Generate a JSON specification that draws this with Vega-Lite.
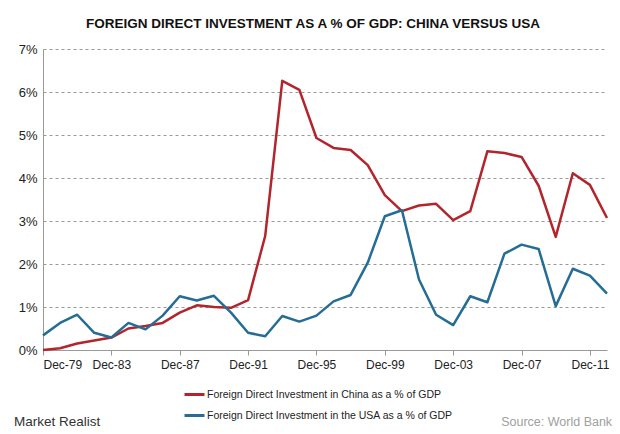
{
  "$schema": "https://vega.github.io/schema/vega-lite/v6.json",
  "autosize": "none",
  "width": 564,
  "height": 301,
  "padding": {"left": 43, "top": 49, "right": 13, "bottom": 84},
  "background": "white",
  "config": {
    "font": "Liberation Sans",
    "view": {"stroke": null}
  },
  "title": {
    "text": "FOREIGN DIRECT INVESTMENT AS A % OF GDP: CHINA VERSUS USA",
    "fontSize": 13.5,
    "fontWeight": "bold",
    "color": "#111111",
    "anchor": "middle",
    "dx": -12,
    "baseline": "alphabetic",
    "offset": 2
  },
  "datasets": {
    "fdi": [
      {"year": 1979, "series": "China", "value": 0.0},
      {"year": 1980, "series": "China", "value": 0.04},
      {"year": 1981, "series": "China", "value": 0.15},
      {"year": 1982, "series": "China", "value": 0.22},
      {"year": 1983, "series": "China", "value": 0.29},
      {"year": 1984, "series": "China", "value": 0.5},
      {"year": 1985, "series": "China", "value": 0.56},
      {"year": 1986, "series": "China", "value": 0.63},
      {"year": 1987, "series": "China", "value": 0.87},
      {"year": 1988, "series": "China", "value": 1.04},
      {"year": 1989, "series": "China", "value": 1.0},
      {"year": 1990, "series": "China", "value": 0.98},
      {"year": 1991, "series": "China", "value": 1.16},
      {"year": 1992, "series": "China", "value": 2.65},
      {"year": 1993, "series": "China", "value": 6.26},
      {"year": 1994, "series": "China", "value": 6.05},
      {"year": 1995, "series": "China", "value": 4.93},
      {"year": 1996, "series": "China", "value": 4.7},
      {"year": 1997, "series": "China", "value": 4.65},
      {"year": 1998, "series": "China", "value": 4.3},
      {"year": 1999, "series": "China", "value": 3.6},
      {"year": 2000, "series": "China", "value": 3.23},
      {"year": 2001, "series": "China", "value": 3.36},
      {"year": 2002, "series": "China", "value": 3.4},
      {"year": 2003, "series": "China", "value": 3.02},
      {"year": 2004, "series": "China", "value": 3.23},
      {"year": 2005, "series": "China", "value": 4.62},
      {"year": 2006, "series": "China", "value": 4.58},
      {"year": 2007, "series": "China", "value": 4.49},
      {"year": 2008, "series": "China", "value": 3.82},
      {"year": 2009, "series": "China", "value": 2.63},
      {"year": 2010, "series": "China", "value": 4.11},
      {"year": 2011, "series": "China", "value": 3.84},
      {"year": 2012, "series": "China", "value": 3.07},
      {"year": 1979, "series": "USA", "value": 0.34},
      {"year": 1980, "series": "USA", "value": 0.63},
      {"year": 1981, "series": "USA", "value": 0.82},
      {"year": 1982, "series": "USA", "value": 0.4},
      {"year": 1983, "series": "USA", "value": 0.29},
      {"year": 1984, "series": "USA", "value": 0.63},
      {"year": 1985, "series": "USA", "value": 0.48},
      {"year": 1986, "series": "USA", "value": 0.8},
      {"year": 1987, "series": "USA", "value": 1.25},
      {"year": 1988, "series": "USA", "value": 1.15},
      {"year": 1989, "series": "USA", "value": 1.26},
      {"year": 1990, "series": "USA", "value": 0.87},
      {"year": 1991, "series": "USA", "value": 0.4},
      {"year": 1992, "series": "USA", "value": 0.32},
      {"year": 1993, "series": "USA", "value": 0.79},
      {"year": 1994, "series": "USA", "value": 0.66},
      {"year": 1995, "series": "USA", "value": 0.8},
      {"year": 1996, "series": "USA", "value": 1.13},
      {"year": 1997, "series": "USA", "value": 1.28},
      {"year": 1998, "series": "USA", "value": 2.03},
      {"year": 1999, "series": "USA", "value": 3.11},
      {"year": 2000, "series": "USA", "value": 3.25},
      {"year": 2001, "series": "USA", "value": 1.64},
      {"year": 2002, "series": "USA", "value": 0.82},
      {"year": 2003, "series": "USA", "value": 0.58},
      {"year": 2004, "series": "USA", "value": 1.25},
      {"year": 2005, "series": "USA", "value": 1.11},
      {"year": 2006, "series": "USA", "value": 2.24},
      {"year": 2007, "series": "USA", "value": 2.45},
      {"year": 2008, "series": "USA", "value": 2.35},
      {"year": 2009, "series": "USA", "value": 1.02},
      {"year": 2010, "series": "USA", "value": 1.89},
      {"year": 2011, "series": "USA", "value": 1.73},
      {"year": 2012, "series": "USA", "value": 1.31}
    ],
    "notes": [
      {"label": "Market Realist"},
      {"label": "Source: World Bank"}
    ]
  },
  "layer": [
    {
      "data": {"name": "fdi"},
      "mark": {"type": "line", "strokeWidth": 2.5, "strokeJoin": "round"},
      "encoding": {
        "x": {
          "field": "year",
          "type": "quantitative",
          "scale": {"domain": [1979, 2012], "nice": false, "zero": false},
          "axis": {
            "title": null,
            "values": [1979, 1983, 1987, 1991, 1995, 1999, 2003, 2007, 2011],
            "labelExpr": "'Dec-' + substring(toString(datum.value), 2)",
            "labelFontSize": 12,
            "labelColor": "#222222",
            "labelPadding": 4,
            "domainColor": "#999999",
            "tickColor": "#999999",
            "tickSize": 5,
            "grid": false
          }
        },
        "y": {
          "field": "value",
          "type": "quantitative",
          "scale": {"domain": [0, 7], "nice": false},
          "axis": {
            "title": null,
            "values": [0, 1, 2, 3, 4, 5, 6, 7],
            "labelExpr": "datum.value + '%'",
            "labelFontSize": 13,
            "labelColor": "#222222",
            "labelPadding": 6,
            "ticks": false,
            "domainColor": "#999999",
            "grid": true,
            "gridColor": "#999999",
            "gridDash": [3, 3],
            "gridWidth": 1
          }
        },
        "color": {
          "field": "series",
          "type": "nominal",
          "scale": {"domain": ["China", "USA"], "range": ["#B3252C", "#256D94"]},
          "legend": {
            "title": null,
            "orient": "none",
            "legendX": 140,
            "legendY": 334,
            "direction": "vertical",
            "padding": 0,
            "symbolType": "stroke",
            "symbolSize": 400,
            "symbolStrokeWidth": 3,
            "rowPadding": 3,
            "labelOffset": 1,
            "labelFontSize": 10.5,
            "labelColor": "#222222",
            "labelLimit": 400,
            "labelExpr": "datum.value == 'China' ? 'Foreign Direct Investment in China as a % of GDP' : 'Foreign Direct Investment in the USA as a % of GDP'"
          }
        }
      }
    },
    {
      "data": {"name": "notes"},
      "transform": [{"filter": "datum.label == 'Market Realist'"}],
      "mark": {"type": "text", "align": "left", "baseline": "alphabetic", "fontSize": 13.5, "color": "#333333"},
      "encoding": {
        "text": {"field": "label"},
        "x": {"datum": 1977.3},
        "y": {"datum": -1.77}
      }
    },
    {
      "data": {"name": "notes"},
      "transform": [{"filter": "datum.label == 'Source: World Bank'"}],
      "mark": {"type": "text", "align": "right", "baseline": "alphabetic", "fontSize": 12.5, "color": "#A0A0A0"},
      "encoding": {
        "text": {"field": "label"},
        "x": {"datum": 2012.3},
        "y": {"datum": -1.77}
      }
    }
  ]
}
